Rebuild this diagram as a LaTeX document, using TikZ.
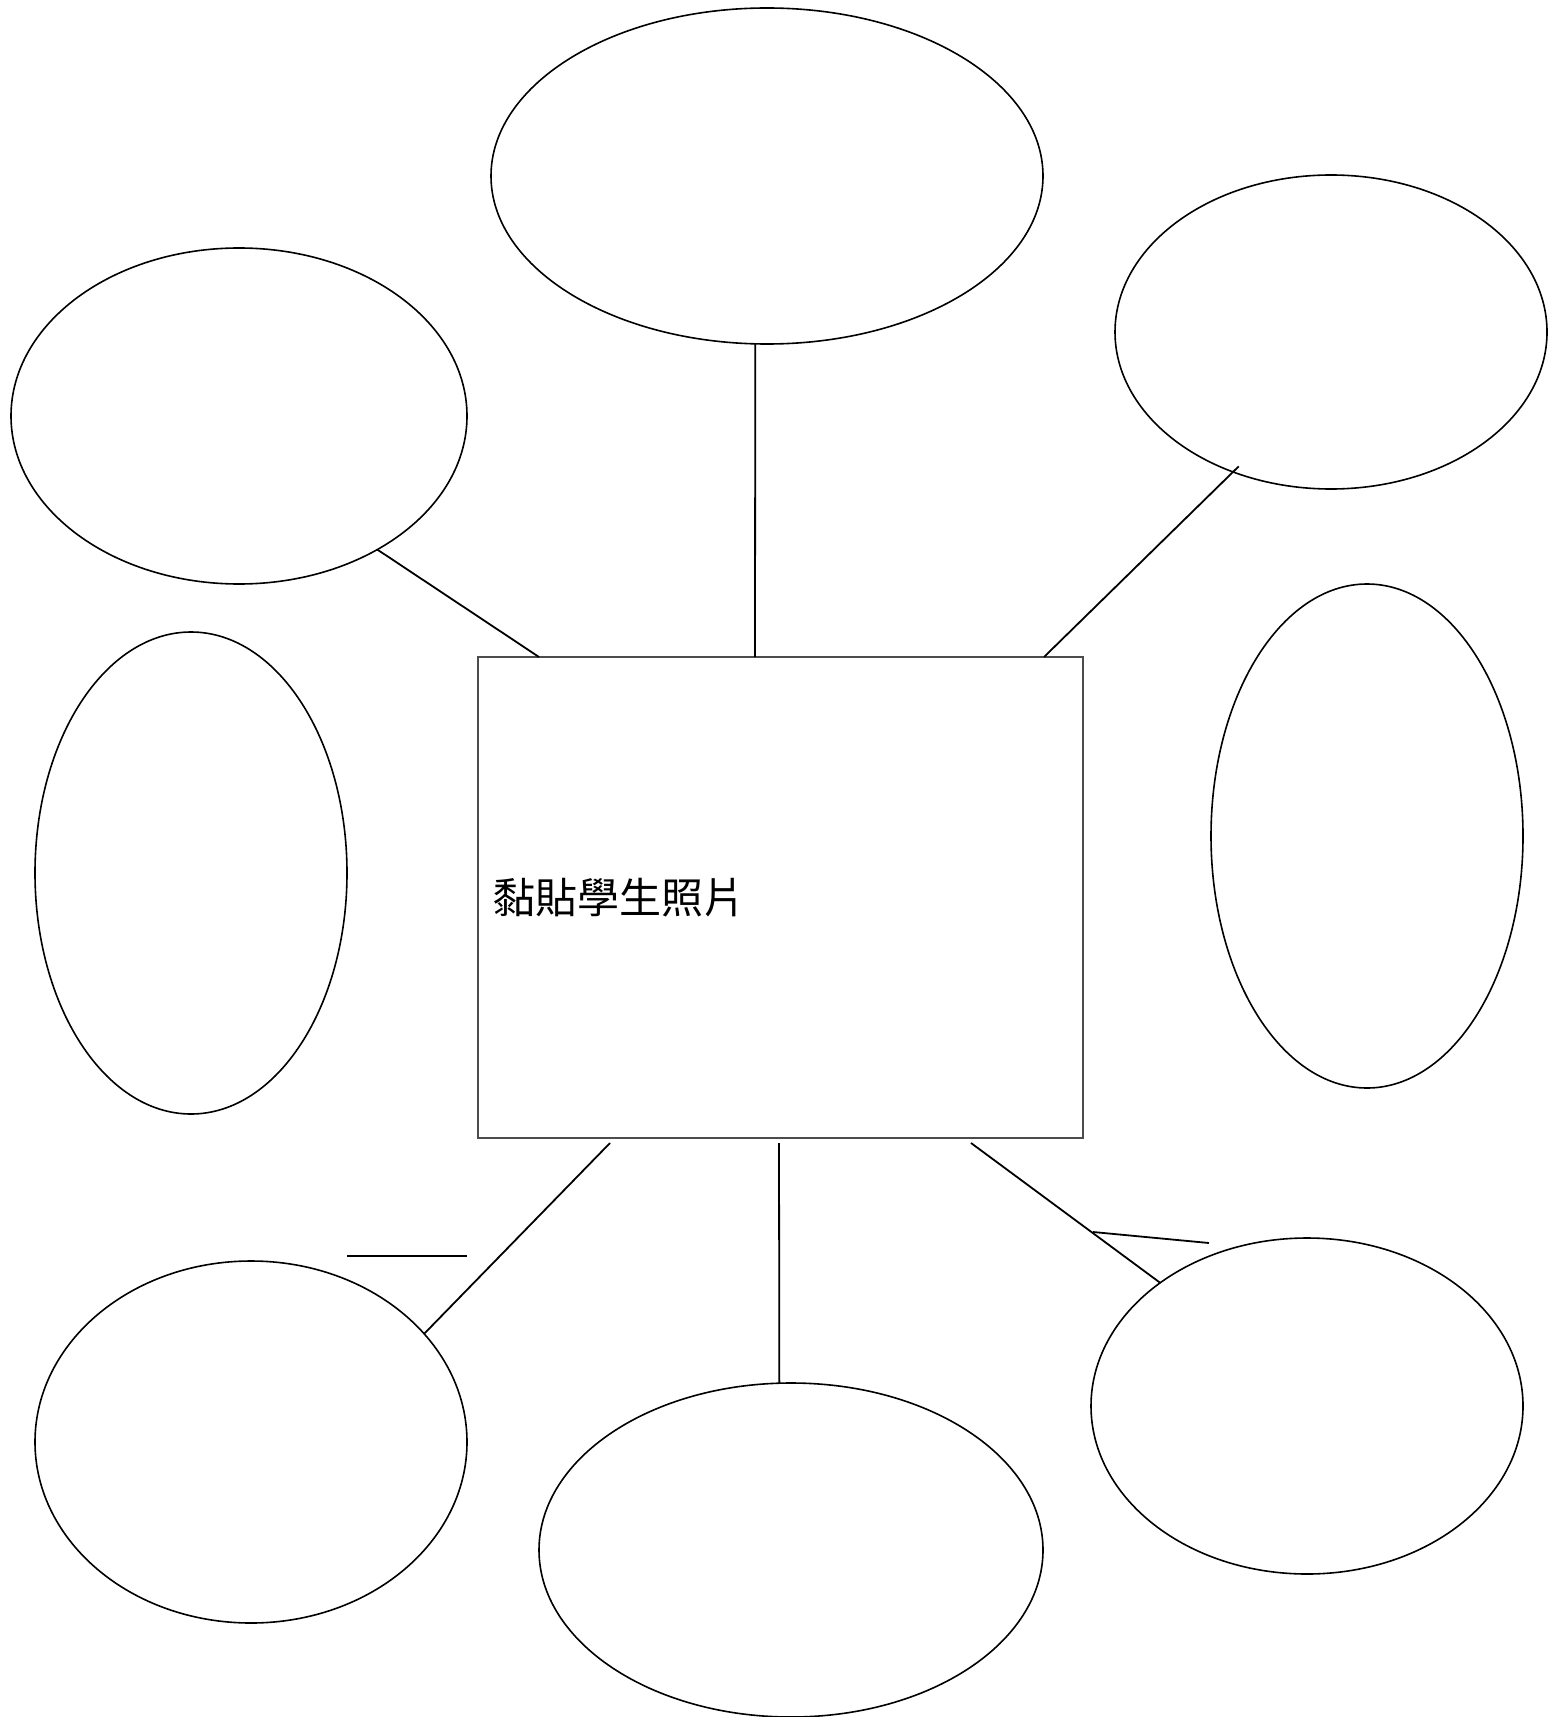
\documentclass[tikz,border=0pt]{standalone}
\usepackage{fontspec}
\newfontfamily\cjk{Noto Sans CJK TC}
\usetikzlibrary{shapes.geometric}
\begin{document}
\begin{tikzpicture}[x=0.5pt, y=-0.5pt,
bubble/.style={ellipse, draw=black, line width=0.8pt, inner sep=0pt, outer sep=0pt},
photobox/.style={rectangle, draw=black!70, line width=0.7pt, minimum width=302.5pt, minimum height=240.5pt, inner sep=0pt, outer sep=0pt},
link/.style={draw=black, line width=0.9pt},
]
    \useasboundingbox (0,0) rectangle (1550,1717);
    \node[photobox] (photo) at (780.5,897.5) {};
    \node[anchor=west, inner sep=0pt] (caption) at ([xshift=7.5pt]photo.west) {\cjk\fontsize{21pt}{25pt}\selectfont 黏貼學生照片};
    \node[bubble, minimum width=276pt, minimum height=168pt] (top) at (767,176) {};
    \node[bubble, minimum width=216pt, minimum height=157pt] (topright) at (1331,332) {};
    \node[bubble, minimum width=228pt, minimum height=168pt] (topleft) at (239,416) {};
    \node[bubble, minimum width=156pt, minimum height=241pt] (left) at (191,873) {};
    \node[bubble, minimum width=156pt, minimum height=252pt] (right) at (1367,836) {};
    \node[bubble, minimum width=216pt, minimum height=181pt] (botleft) at (251,1442) {};
    \node[bubble, minimum width=252pt, minimum height=167pt] (bottom) at (791,1550) {};
    \node[bubble, minimum width=216pt, minimum height=168pt] (botright) at (1307,1406) {};
    \draw[link] (topleft.-44) -- ([xshift=30.5pt]photo.north west);
    \draw[link] (top.-94) -- ([xshift=138.5pt]photo.north west);
    \draw[link, shorten <=-4pt] (topright.-125.6) -- ([xshift=-19.5pt]photo.north east);
    \draw[link] ([xshift=66pt, yshift=-2.5pt]photo.south west) -- (botleft.32.4);
    \draw[link] ([xshift=150.5pt, yshift=-2.5pt]photo.south west) -- (bottom.94);
    \draw[link] ([xshift=246.5pt, yshift=-2.5pt]photo.south west) -- (botright.140.1);
    % stray strokes
    \coordinate (strayA) at (347,1256);
    \coordinate (strayB) at (467,1256);
    \coordinate (strayC) at (1093,1232);
    \coordinate (strayD) at (1209,1243);
    \draw[link] (strayA) -- (strayB);
    \draw[link] (strayC) -- (strayD);
\end{tikzpicture}
\end{document}
